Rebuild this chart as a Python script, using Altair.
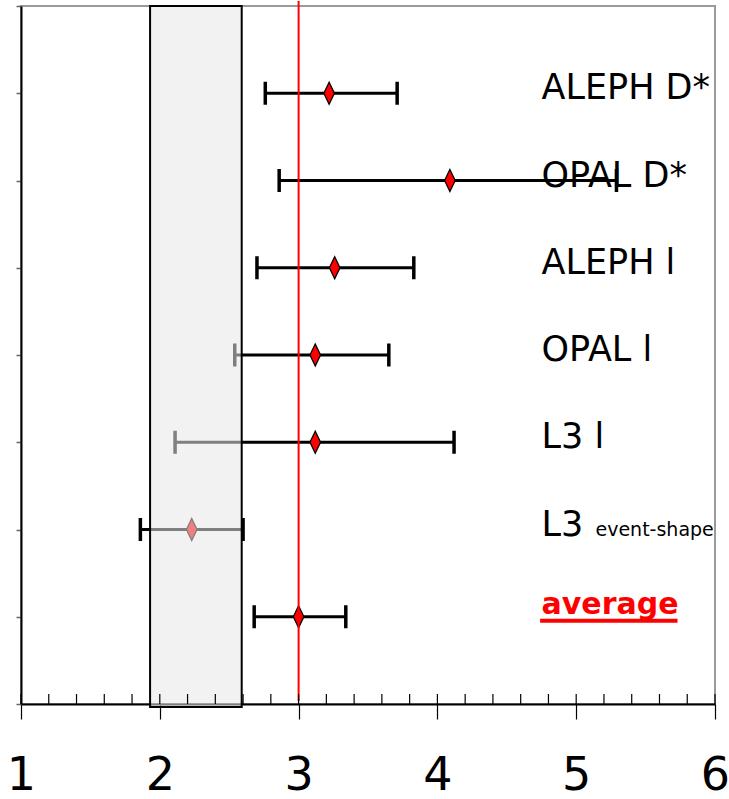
import altair as alt
import pandas as pd

# Measurements of the quantity, one row per experiment / channel
labels = ["ALEPH D*", "OPAL D*", "ALEPH l", "OPAL l", "L3 l", "L3", "average"]
rows = [7, 6, 5, 4, 3, 2, 1]
central = [3.22, 4.09, 3.26, 3.12, 3.12, 2.23, 3.00]
low = [2.76, 2.86, 2.70, 2.54, 2.11, 1.86, 2.68]
high = [3.71, 5.29, 3.83, 3.65, 4.12, 2.60, 3.34]

# Theory band and reference value
band_lo, band_hi = 1.93, 2.59
ref_value = 3.0

# Axis ticks
major_ticks = [1, 2, 3, 4, 5, 6]
minor_ticks = [round(1 + 0.2 * i, 1) for i in range(26)]
row_ticks = list(range(0, 9))

label_x = 4.75

df = pd.DataFrame({"label": labels, "row": rows, "c": central, "lo": low, "hi": high})
meas = df.iloc[:6]
avg = df.iloc[6:]

W, H = 694, 698
FONT = "DejaVu Sans"

x_scale = alt.Scale(domain=[1, 6], nice=False, zero=False)
y_scale = alt.Scale(domain=[0, 8], nice=False, zero=False)

x_enc = alt.X(
    "lo:Q", scale=x_scale,
    axis=alt.Axis(values=major_ticks, title=None, grid=False, format="d",
                  tickSize=15, tickColor="black", tickWidth=1.2,
                  domainColor="black", domainWidth=1.8,
                  labelFont=FONT, labelFontSize=46, labelColor="black",
                  labelPadding=34, labelFlush=False, labelOverlap=False),
)
y_enc = alt.Y(
    "row:Q", scale=y_scale,
    axis=alt.Axis(values=row_ticks, title=None, grid=False, labels=False,
                  tickSize=5, tickColor="#666", tickWidth=1.5,
                  domainColor="black", domainWidth=2),
)

base = alt.Chart(df)

# error bars with end caps
bars = base.mark_rule(color="black", strokeWidth=3).encode(x=x_enc, x2="hi:Q", y=y_enc)
caps_lo = base.mark_tick(color="black", orient="vertical", size=23, thickness=3.5, opacity=1).encode(
    x=alt.X("lo:Q", scale=x_scale), y=alt.Y("row:Q", scale=y_scale))
caps_hi = base.mark_tick(color="black", orient="vertical", size=23, thickness=3.5, opacity=1).encode(
    x=alt.X("hi:Q", scale=x_scale), y=alt.Y("row:Q", scale=y_scale))
points = base.mark_point(
    shape="M0,-1L0.48,0L0,1L-0.48,0Z", size=484, filled=True,
    fill="#ff0000", stroke="black", strokeWidth=1.3, opacity=1,
).encode(x=alt.X("c:Q", scale=x_scale), y=alt.Y("row:Q", scale=y_scale))

# translucent theory band drawn over the bars
band = alt.Chart(pd.DataFrame({"a": [band_lo], "b": [band_hi]})).mark_rect(
    fill="#e8e8e8", fillOpacity=0.55, stroke="black", strokeWidth=2,
).encode(
    x=alt.X("a:Q", scale=x_scale), x2="b:Q",
    y=alt.value(0), y2=alt.value(H + 3),
)

ref_line = alt.Chart(pd.DataFrame({"v": [ref_value]})).mark_rule(
    color="#ff0000", strokeWidth=2
).encode(x=alt.X("v:Q", scale=x_scale), y=alt.value(-5), y2=alt.value(H - 3))

# inward minor ticks on the x axis
minor = alt.Chart(pd.DataFrame({"t": minor_ticks})).mark_rule(
    color="black", strokeWidth=1.2
).encode(x=alt.X("t:Q", scale=x_scale), y=alt.value(H - 10), y2=alt.value(H))

names = alt.Chart(meas).mark_text(
    align="left", baseline="alphabetic", font=FONT, fontSize=35, color="black", dy=6
).encode(x=alt.datum(label_x), y=alt.Y("row:Q", scale=y_scale), text="label:N")

sub = alt.Chart(meas.iloc[5:]).mark_text(
    align="left", baseline="alphabetic", font=FONT, fontSize=19, color="black",
    dx=54, dy=6,
).encode(x=alt.datum(label_x), y=alt.Y("row:Q", scale=y_scale), text=alt.value("event-shape"))

avg_text = alt.Chart(avg).mark_text(
    align="left", baseline="alphabetic", font=FONT, fontSize=30, fontWeight="bold",
    color="#ff0000", dy=-3,
).encode(x=alt.datum(label_x), y=alt.Y("row:Q", scale=y_scale), text="label:N")

avg_underline = alt.Chart(avg).mark_rule(color="#ff0000", strokeWidth=4).encode(
    x=alt.datum(label_x - 0.01), x2=alt.datum(label_x + 0.98),
    y=alt.Y("row:Q", scale=y_scale), yOffset=alt.value(4),
)

chart = alt.layer(
    bars, caps_lo, caps_hi, points, band, ref_line, minor, names, sub, avg_text, avg_underline
).properties(
    width=W, height=H,
    autosize=alt.AutoSizeParams(type="none"),
    padding={"left": 21, "top": 6, "right": 14, "bottom": 95},
    background="white",
).configure_view(stroke="#9a9a9a", strokeWidth=2)

chart.save("out.html", embed_options={"renderer": "svg", "actions": False})
